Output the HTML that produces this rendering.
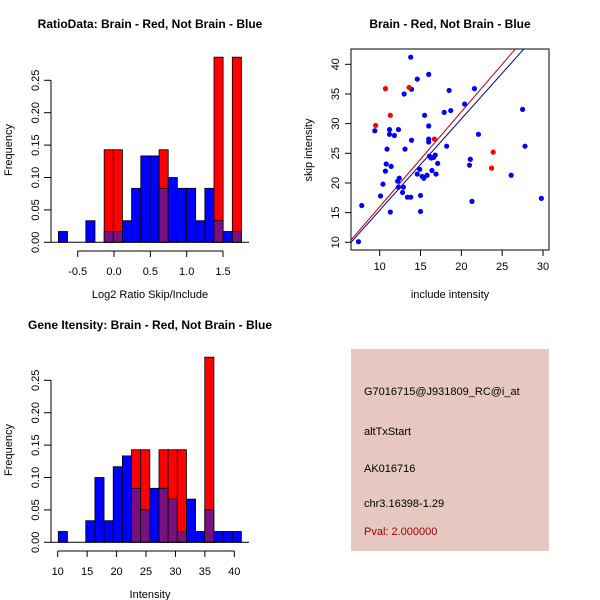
<!DOCTYPE html>
<html><head><meta charset="utf-8"><style>
body{margin:0;background:#fff;}
svg{display:block;font-family:"Liberation Sans",sans-serif;}
</style></head><body>
<svg id="s" width="600" height="600" viewBox="0 0 600 600">
<rect x="0" y="0" width="600" height="600" fill="#fff"/>
<text x="150" y="28" text-anchor="middle" font-weight="bold" font-size="12">RatioData: Brain - Red, Not Brain - Blue</text>
<text x="450" y="28" text-anchor="middle" font-weight="bold" font-size="12">Brain - Red, Not Brain - Blue</text>
<text x="150" y="329" text-anchor="middle" font-weight="bold" font-size="12">Gene Itensity: Brain - Red, Not Brain - Blue</text>
<g id="h1"></g>
<g id="sc"></g>
<g id="h2"></g>
<g>
<rect x="351" y="349" width="198" height="202" fill="#e6c8c0"/>
<text x="364" y="395" font-size="11">G7016715@J931809_RC@i_at</text>
<text x="364" y="435" font-size="11">altTxStart</text>
<text x="364" y="472" font-size="11">AK016716</text>
<text x="364" y="507" font-size="11">chr3.16398-1.29</text>
<text x="364" y="535" font-size="11" fill="#a00000">Pval: 2.000000</text>
</g>
</svg>
<script>
// ---- Ratio histogram data ----
const ratioBreakStart = -0.766;
const ratioBinWidth = 0.126;
const ratioBlue = [1,0,0,2,0,1,1,2,5,8,8,5,6,5,5,2,5,2,1,1].map(v=>v/60);
const ratioRed  = [0,0,0,0,0,1,1,0,0,0,0,1,0,0,0,0,0,2,0,2].map(v=>v/7);
const ratioXTicks = [-0.5,0.0,0.5,1.0,1.5];
const freqTicks = [0,0.05,0.10,0.15,0.20,0.25];
// ---- Intensity histogram data ----
const intBreakStart = 10.1;
const intBinWidth = 1.555;
const intBlue = [1,0,0,2,6,2,7,8,5,3,5,5,4,1,4,1,3,1,1,1].map(v=>v/60);
const intRed  = [0,0,0,0,0,0,0,0,1,1,0,1,1,1,0,0,2,0,0,0].map(v=>v/7);
const intXTicks = [10,15,20,25,30,35,40];
// ---- Scatter data ----
const blueX = [7.4,7.8,9.4,10.1,10.4,10.7,10.8,10.9,11.2,11.2,11.3,11.4,11.8,12.2,12.3,12.4,12.3,12.8,12.9,13.0,13.1,13.4,13.8,13.8,13.9,13.9,14.6,14.6,14.9,15.0,15.0,15.2,15.4,15.5,15.8,16.0,16.0,16.0,16.0,16.1,16.3,16.4,16.6,16.8,16.9,17.1,17.9,18.2,18.5,18.7,20.4,21.0,21.1,21.3,21.6,22.1,26.1,27.5,27.8,29.8];
const blueY = [10.1,16.2,28.8,17.8,19.8,22.0,23.2,25.7,29.0,28.2,15.1,22.8,28.0,20.3,29.0,20.8,19.3,18.4,19.3,35.0,25.7,17.6,41.2,17.6,27.2,35.8,37.5,21.5,22.3,17.9,15.2,21.1,20.8,31.4,21.3,38.3,29.6,27.4,26.9,24.5,24.2,22.1,24.3,24.7,21.5,23.3,31.9,26.2,35.6,32.2,33.3,23.0,24.0,16.9,35.9,28.2,21.3,32.4,26.2,17.4];
const redX = [9.5,10.7,11.3,13.6,16.7,23.7,23.9];
const redY = [29.7,35.9,31.4,36.1,27.4,22.5,25.2];
const scXTicks = [10,15,20,25,30];
const scYTicks = [10,15,20,25,30,35,40];
const lineSlopes = [1.60,1.54];
const lineColors = ['#b00000','#000090'];

const NS='http://www.w3.org/2000/svg';
function mk(parent,tag,attrs,text){const e=document.createElementNS(NS,tag);for(const k in attrs)e.setAttribute(k,attrs[k]);if(text!==undefined)e.textContent=text;parent.appendChild(e);return e;}

function hist(g,oy,breakStart,bw,blue,red,xTicks,xmap,xlabel,fmt){
  const ymap=v=>oy+242.3-v*648;
  const ya=mk(g,'g',{});
  
  
  mk(ya,'line',{x1:51,x2:51,y1:ymap(0),y2:ymap(0.25),stroke:'#000'});
  freqTicks.forEach(t=>{
    const y=ymap(t);
    mk(ya,'line',{x1:44,x2:51,y1:y,y2:y,stroke:'#000'});
    const tx=mk(ya,'text',{x:39,y:y,'font-size':11,'text-anchor':'middle',transform:`rotate(-90 39 ${y})`},t.toFixed(2));
    
    
  });
  const yt=mk(g,'text',{x:12,y:oy+150,'font-size':11,'text-anchor':'middle',transform:`rotate(-90 12 ${oy+150})`},'Frequency');
  
  
  for(let i=0;i<blue.length;i++){
    const x0=xmap(breakStart+i*bw), x1=xmap(breakStart+(i+1)*bw);
    if(red[i]>0){
      const r=mk(g,'rect',{x:x0,y:ymap(red[i]),width:x1-x0,height:ymap(0)-ymap(red[i]),fill:'#ff0000',stroke:'#000','stroke-width':0.8});
      
      
    }
    if(blue[i]>0){
      const b=mk(g,'rect',{x:x0,y:ymap(blue[i]),width:x1-x0,height:ymap(0)-ymap(blue[i]),fill:red[i]>0?'#7a1080':'#0000ff',stroke:'#000','stroke-width':0.8});
      
      
    }
  }
  mk(g,'line',{x1:51,x2:249,y1:ymap(0),y2:ymap(0),stroke:'#000'});
  const xa=mk(g,'g',{});
  
  
  const ay=oy+251;
  mk(xa,'line',{x1:xmap(xTicks[0]),x2:xmap(xTicks[xTicks.length-1]),y1:ay,y2:ay,stroke:'#000'});
  xTicks.forEach(t=>{
    const x=xmap(t);
    mk(xa,'line',{x1:x,x2:x,y1:ay,y2:ay+6,stroke:'#000'});
    const tx=mk(xa,'text',{x:x,y:oy+275,'font-size':11,'text-anchor':'middle'},fmt(t));
    
    
  });
  const xt=mk(g,'text',{x:150,y:oy+298,'font-size':11,'text-anchor':'middle'},xlabel);
  
  
}
hist(document.getElementById('h1'),0,ratioBreakStart,ratioBinWidth,ratioBlue,ratioRed,ratioXTicks,v=>77.7+(v+0.5)*72.65,'Log2 Ratio Skip/Include',t=>t.toFixed(1));
hist(document.getElementById('h2'),300,intBreakStart,intBinWidth,intBlue,intRed,intXTicks,v=>57.7+(v-10)*5.887,'Intensity',t=>String(t));

(function(){
  const g=document.getElementById('sc');
  const xm=v=>379.7+(v-10)*8.165, ym=v=>242.3-(v-10)*5.933;
  const clip=mk(g,'clipPath',{id:'scclip'});
  mk(clip,'rect',{x:351,y:49,width:198,height:201});
  mk(g,'rect',{x:351,y:49,width:198,height:201,fill:'none',stroke:'#000'});
  const lg=mk(g,'g',{'clip-path':'url(#scclip)'});
  lineSlopes.forEach((s,i)=>{
    const l=mk(lg,'line',{x1:xm(0),y1:ym(0),x2:xm(40),y2:ym(40*s),stroke:lineColors[i],'stroke-width':1});
    
    
  });
  blueX.forEach((x,i)=>{
    const c=mk(g,'circle',{cx:xm(x),cy:ym(blueY[i]),r:2.6,fill:'#0000ff'});
    
    
  });
  redX.forEach((x,i)=>{
    const c=mk(g,'circle',{cx:xm(x),cy:ym(redY[i]),r:2.6,fill:'#ff0000'});
    
    
  });
  scXTicks.forEach(t=>{
    const x=xm(t);
    mk(g,'line',{x1:x,x2:x,y1:250,y2:256,stroke:'#000'});
    const tx=mk(g,'text',{x:x,y:270,'font-size':11,'text-anchor':'middle'},String(t));
    
    
  });
  scYTicks.forEach(t=>{
    const y=ym(t);
    mk(g,'line',{x1:345,x2:351,y1:y,y2:y,stroke:'#000'});
    const tx=mk(g,'text',{x:339,y:y,'font-size':11,'text-anchor':'middle',transform:`rotate(-90 339 ${y})`},String(t));
    
    
  });
  const xt=mk(g,'text',{x:450,y:298,'font-size':11,'text-anchor':'middle'},'include intensity');
  
  
  const yt=mk(g,'text',{x:312,y:150,'font-size':11,'text-anchor':'middle',transform:'rotate(-90 312 150)'},'skip intensity');
  
  
})();
</script>
</body></html>
